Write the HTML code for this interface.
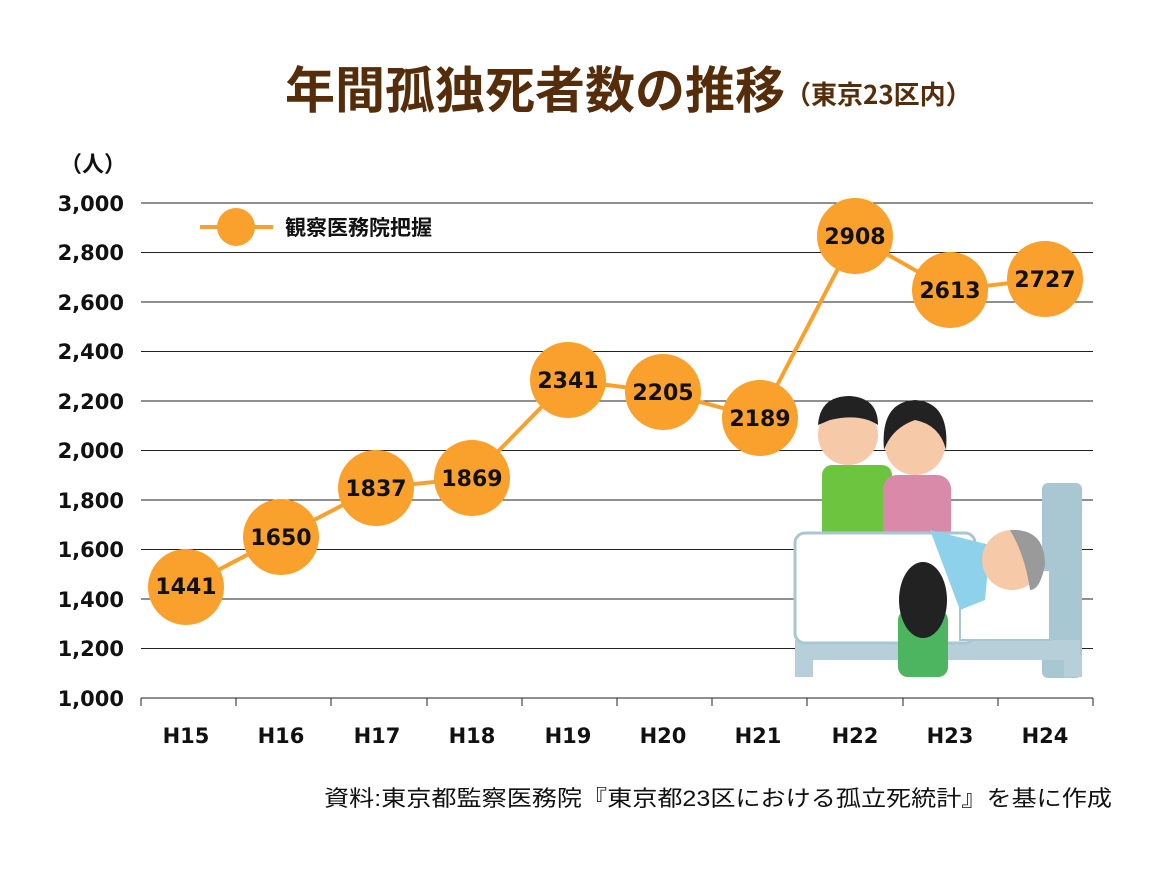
<!DOCTYPE html>
<html><head><meta charset="utf-8"><style>
body{margin:0;background:#fff;width:1165px;height:879px;overflow:hidden}
svg text{font-family:"Liberation Sans","Noto Sans CJK JP",sans-serif}
svg .n{font-family:"DejaVu Sans","Liberation Sans",sans-serif}
</style></head><body>
<svg width="1165" height="879" xmlns="http://www.w3.org/2000/svg">
<text x="285" y="108" font-size="50" font-weight="bold" fill="#552d0a">年間孤独死者数の推移<tspan font-size="26" dy="-4" font-family="Noto Sans CJK JP">（東京23区内）</tspan></text>
<text x="60" y="172" font-size="22" font-weight="bold" fill="#111" font-family="Noto Sans CJK JP">（人）</text>
<g stroke="#222" stroke-width="1">
<line x1="141" x2="1093" y1="203" y2="203"/><line x1="141" x2="1093" y1="252.5" y2="252.5"/>
<line x1="141" x2="1093" y1="302" y2="302"/><line x1="141" x2="1093" y1="351.5" y2="351.5"/>
<line x1="141" x2="1093" y1="401" y2="401"/><line x1="141" x2="1093" y1="450.5" y2="450.5"/>
<line x1="141" x2="1093" y1="500" y2="500"/><line x1="141" x2="1093" y1="549.5" y2="549.5"/>
<line x1="141" x2="1093" y1="599" y2="599"/><line x1="141" x2="1093" y1="648.5" y2="648.5"/>
<line x1="141" x2="1093" y1="698" y2="698"/>
</g>
<g stroke="#222"><line x1="141" y1="698" x2="141" y2="706"/><line x1="236" y1="698" x2="236" y2="706"/><line x1="331" y1="698" x2="331" y2="706"/><line x1="427" y1="698" x2="427" y2="706"/><line x1="522" y1="698" x2="522" y2="706"/><line x1="617" y1="698" x2="617" y2="706"/><line x1="712" y1="698" x2="712" y2="706"/><line x1="807" y1="698" x2="807" y2="706"/><line x1="903" y1="698" x2="903" y2="706"/><line x1="998" y1="698" x2="998" y2="706"/><line x1="1093" y1="698" x2="1093" y2="706"/></g>
<g class="n" font-size="21" font-weight="bold" fill="#111" text-anchor="end">
<text class="n" x="124" y="211">3,000</text><text class="n" x="124" y="260">2,800</text><text class="n" x="124" y="310">2,600</text><text class="n" x="124" y="359">2,400</text><text class="n" x="124" y="409">2,200</text><text class="n" x="124" y="458">2,000</text><text class="n" x="124" y="508">1,800</text><text class="n" x="124" y="557">1,600</text><text class="n" x="124" y="607">1,400</text><text class="n" x="124" y="656">1,200</text><text class="n" x="124" y="706">1,000</text>
</g>
<g font-size="21" font-weight="bold" fill="#111" text-anchor="middle">
<text class="n" x="186" y="743">H15</text><text class="n" x="281" y="743">H16</text><text class="n" x="377" y="743">H17</text><text class="n" x="472" y="743">H18</text><text class="n" x="568" y="743">H19</text><text class="n" x="663" y="743">H20</text><text class="n" x="758" y="743">H21</text><text class="n" x="855" y="743">H22</text><text class="n" x="950" y="743">H23</text><text class="n" x="1045" y="743">H24</text>
</g>
<!-- illustration -->
<g>
<rect x="1042" y="483" width="40" height="195" rx="6" fill="#a9c6d3"/>
<rect x="795" y="640" width="285" height="20" fill="#b6cfd9"/>
<rect x="795" y="655" width="18" height="22" fill="#b6cfd9"/><rect x="1064" y="655" width="18" height="22" fill="#b6cfd9"/>
<rect x="822" y="465" width="70" height="80" rx="10" fill="#6cc43f"/>
<circle cx="848" cy="435" r="30" fill="#f6c9a8"/><path d="M818 425 Q820 396 850 396 Q878 398 878 425 Q860 413 830 420Z" fill="#222"/>
<rect x="883" y="475" width="68" height="75" rx="14" fill="#d98aa8"/>
<circle cx="915" cy="445" r="30" fill="#f6c9a8"/><path d="M884 450 Q880 402 915 400 Q950 402 946 450 Q940 425 915 420 Q892 428 884 450Z" fill="#222"/>
<rect x="795" y="533" width="180" height="110" rx="10" fill="#fff" stroke="#a9c6d3" stroke-width="3"/>
<rect x="960" y="570" width="90" height="70" fill="#fff" stroke="#a9c6d3" stroke-width="2"/>
<path d="M930 530 L990 545 L985 600 L960 610 Z" fill="#8dd1ea"/>
<circle cx="1012" cy="560" r="30" fill="#f6c9a8"/><path d="M1010 530 Q1045 528 1045 565 Q1040 590 1030 590 Q1025 555 1010 530Z" fill="#9a9a9a"/>
<rect x="898" y="610" width="50" height="67" rx="10" fill="#4db560"/>
<ellipse cx="923" cy="600" rx="24" ry="38" fill="#222"/>
</g>
<polyline fill="none" stroke="#f9a12c" stroke-width="4" points="186,587 281,537 376,488 472,478 568,380 663,392 760,418 855,236 950,290 1045,279"/>
<g fill="#f9a12c">
<circle cx="186" cy="587" r="38"/><circle cx="281" cy="537" r="38"/><circle cx="376" cy="488" r="38"/><circle cx="472" cy="478" r="38"/><circle cx="568" cy="380" r="38"/><circle cx="663" cy="392" r="38"/><circle cx="760" cy="418" r="38"/><circle cx="855" cy="236" r="38"/><circle cx="950" cy="290" r="38"/><circle cx="1045" cy="279" r="38"/>
</g>
<g font-size="22" font-weight="bold" fill="#111" text-anchor="middle">
<text class="n" x="186" y="594">1441</text><text class="n" x="281" y="545">1650</text><text class="n" x="376" y="496">1837</text><text class="n" x="472" y="486">1869</text><text class="n" x="568" y="388">2341</text><text class="n" x="663" y="400">2205</text><text class="n" x="760" y="426">2189</text><text class="n" x="855" y="244">2908</text><text class="n" x="950" y="298">2613</text><text class="n" x="1045" y="287">2727</text>
</g>
<line x1="200" y1="227" x2="273" y2="227" stroke="#f9a12c" stroke-width="4"/>
<circle cx="236" cy="227" r="19" fill="#f9a12c"/>
<text x="285" y="235" font-size="21" font-weight="bold" fill="#111">観察医務院把握</text>
<text x="324" y="806" font-size="22" fill="#111" textLength="788" lengthAdjust="spacingAndGlyphs">資料:東京都監察医務院『東京都23区における孤立死統計』を基に作成</text>
</svg>
</body></html>
